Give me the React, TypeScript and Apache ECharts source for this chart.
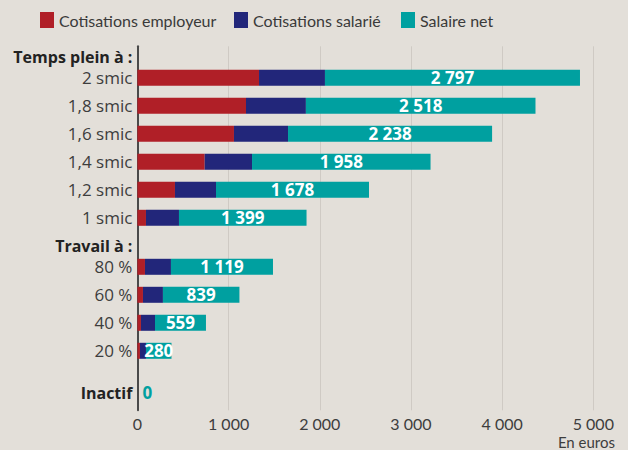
import React, { useEffect, useRef } from "react";
import * as echarts from "echarts";

// Rows, top to bottom
const categories = [
  "Temps plein à :",
  "2 smic",
  "1,8 smic",
  "1,6 smic",
  "1,4 smic",
  "1,2 smic",
  "1 smic",
  "Travail à :",
  "80 %",
  "60 %",
  "40 %",
  "20 %",
  "Inactif",
];
const boldRows = ["Temps plein à :", "Travail à :", "Inactif"];

const employerContrib = [null, 1334, 1191, 1059, 738, 412, 94, null, 83, 61, 39, 28, 0];
const employeeContrib = [null, 723, 657, 593, 519, 450, 362, null, 285, 219, 154, 66, 0];
const netSalary = [null, 2797, 2518, 2238, 1958, 1678, 1399, null, 1119, 839, 559, 280, 0];

const xTicks = { min: 0, max: 5000, interval: 1000 };
const legendNames = ["Cotisations employeur", "Cotisations salarié", "Salaire net"];

// Layout: vertical slot of each row on a fine band grid
const rowSlot = [1, 4, 8, 12, 16, 20, 24, 28, 31, 35, 39, 43, 49];
const SLOT_COUNT = 52;
const legendLeft = [40, 234, 401];

const RED = "#b01f27";
const NAVY = "#22267a";
const TEAL = "#00a0a0";
const BG = "#e3dfd9";
const FONT = "'Open Sans', Lato, sans-serif";
const LIGHT_FONT = "Lato, 'Open Sans', sans-serif";

const fmt = (v: number) => String(v).replace(/\B(?=(\d{3})+(?!\d))/g, " ");

function spread(values: (number | null)[]) {
  const out: any[] = new Array(SLOT_COUNT).fill(null);
  values.forEach((v, i) => {
    out[rowSlot[i]] = v;
  });
  return out;
}

export default function App() {
  const ref = useRef<HTMLDivElement>(null);
  useEffect(() => {
    if (!ref.current) return;
    const chart = echarts.init(ref.current, undefined, { renderer: "svg" });

    const slotIds = Array.from({ length: SLOT_COUNT }, (_, i) => "s" + i);
    const slotLabel: Record<number, string> = {};
    categories.forEach((c, i) => {
      slotLabel[rowSlot[i]] = c;
    });

    const netData = spread(netSalary).map((v) => {
      if (v === 0) {
        return {
          value: 0,
          label: { show: true, position: "right", distance: 5, color: TEAL },
        };
      }
      return v;
    });

    chart.setOption({
      animation: false,
      backgroundColor: BG,
      textStyle: { fontFamily: FONT },
      legend: legendNames.map((n, i) => ({
        top: 12,
        left: legendLeft[i],
        padding: 0,
        itemWidth: 14,
        itemHeight: 16,
        icon: "rect",
        selectedMode: false,
        data: [n],
        textStyle: { fontSize: 16, color: "#3a3a3a", fontFamily: LIGHT_FONT },
      })),
      grid: { left: 137.4, right: 34.7, top: 46.3, height: SLOT_COUNT * 7, containLabel: false },
      xAxis: {
        type: "value",
        min: xTicks.min,
        max: xTicks.max,
        interval: xTicks.interval,
        axisLine: { show: false },
        axisTick: { show: false },
        splitLine: { show: true, lineStyle: { color: "#cfcac4", width: 1 } },
        axisLabel: {
          formatter: (v: number) => fmt(v),
          fontSize: 16,
          lineHeight: 16,
          color: "#3d3d3d",
          fontFamily: LIGHT_FONT,
          margin: 5,
        },
      },
      yAxis: {
        type: "category",
        inverse: true,
        data: slotIds,
        axisLine: { show: true, lineStyle: { color: "#4a4a4a", width: 2 } },
        axisTick: { show: false },
        splitLine: { show: false },
        axisLabel: {
          interval: 0,
          margin: 5,
          formatter: (_v: string, idx: number) => {
            const l = slotLabel[idx];
            if (!l) return "";
            return boldRows.includes(l) ? "{h|" + l + "}" : "{n|" + l + "}";
          },
          rich: {
            h: { fontSize: 16, fontWeight: "bold", color: "#222222", fontFamily: FONT },
            n: { fontSize: 17, color: "#3d3d3d", fontFamily: FONT },
          },
        },
      },
      series: [
        {
          name: legendNames[0],
          type: "bar",
          stack: "total",
          barWidth: 16,
          itemStyle: { color: RED },
          data: spread(employerContrib),
        },
        {
          name: legendNames[1],
          type: "bar",
          stack: "total",
          barWidth: 16,
          itemStyle: { color: NAVY },
          data: spread(employeeContrib),
        },
        {
          name: legendNames[2],
          type: "bar",
          stack: "total",
          barWidth: 16,
          itemStyle: { color: TEAL },
          label: {
            show: true,
            position: "inside",
            color: "#ffffff",
            fontSize: 17,
            fontWeight: "bold",
            fontFamily: FONT,
            formatter: (p: any) => fmt(p.value),
          },
          data: netData,
        },
      ],
      graphic: [
        {
          type: "text",
          right: 13,
          top: 434,
          style: {
            text: "En euros",
            fontSize: 15,
            lineHeight: 15,
            fill: "#3d3d3d",
            fontFamily: LIGHT_FONT,
          },
        },
      ],
    });
    return () => chart.dispose();
  }, []);
  return (
    <div
      ref={ref}
      style={{ position: "fixed", left: 0, top: 0, width: 628, height: 450, background: BG }}
    />
  );
}
